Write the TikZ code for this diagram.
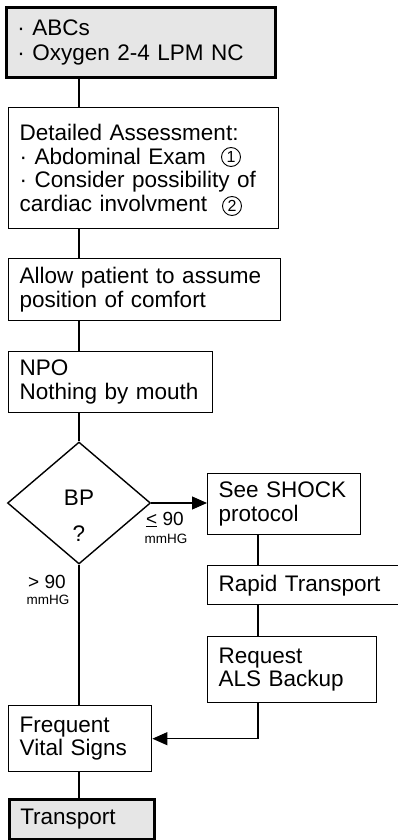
\documentclass[tikz,border=0pt]{standalone}
\usepackage{fontspec}
\setmainfont{Liberation Sans}
\usetikzlibrary{shapes.geometric,arrows.meta}
\definecolor{startgray}{RGB}{230,230,230}
\tikzset{
  box/.style={draw, line width=1.4pt, anchor=north west, align=left,
    inner xsep=11pt, inner ysep=0pt, font=\fontsize{22.5}{23.5}\selectfont},
  endbox/.style={box, fill=startgray, line width=2.6pt},
  link/.style={line width=1.2pt},
  cond/.style={anchor=base, font=\fontsize{19}{19}\selectfont},
  unit/.style={anchor=base, font=\fontsize{13.5}{14}\selectfont},
  note/.style={draw, circle, line width=0.9pt, minimum size=19pt, inner sep=0pt,
    font=\fontsize{16}{16}\selectfont},
}
\begin{document}
\begin{tikzpicture}[x=1pt,y=-1pt]
  \useasboundingbox (0,0) rectangle (397,840);
  % Main column
  \node[endbox, text width=247pt, minimum height=70pt] (abc) at (5,6)
    {· ABCs\\[1pt]· Oxygen 2-4 LPM NC};
  \node[box, text width=248pt, minimum height=121pt] (assess) at (8,107)
    {Detailed Assessment:\\· Abdominal Exam\\· Consider possibility of\\cardiac involvment};
  \node[note] (note1) at (231,157) {1};
  \node[note] (note2) at (232,206) {2};
  \node[box, text width=250pt, minimum height=62pt] (allow) at (8,258)
    {Allow patient to assume\\position of comfort};
  \node[box, text width=182pt, minimum height=61pt] (npo) at (8,351)
    {NPO\\Nothing by mouth};
  \node[draw, diamond, line width=1.4pt, minimum width=143pt, minimum height=122pt,
    inner sep=0pt] (bp) at (79,503) {};
  \node[align=center, font=\fontsize{22.5}{23.5}\selectfont] (bptext) at (79,516)
    {BP\\[13pt]?};
  \node[box, text width=121pt, minimum height=66pt] (vital) at (8,705)
    {Frequent\\Vital Signs};
  \node[endbox, text width=123pt, minimum height=40pt] (transport) at (8,798)
    {Transport};
  % Shock column
  \node[box, text width=131pt, minimum height=61pt] (shock) at (207,473)
    {See SHOCK\\protocol};
  \node[box, text width=200pt, minimum height=39pt] (rapid) at (207,565)
    {Rapid Transport};
  \node[box, text width=147pt, minimum height=66pt] (als) at (207,636)
    {Request\\ALS Backup};
  \coordinate (rcol) at (258,0);

  % Connectors
  \draw[link] (abc.south -| bp) -- (assess.north -| bp);
  \draw[link] (assess.south -| bp) -- (allow.north -| bp);
  \draw[link] (allow.south -| bp) -- (npo.north -| bp);
  \draw[link] (npo.south -| bp) -- (bp.north);
  \draw[link] (bp.south) -- (vital.north -| bp);
  \draw[link] (vital.south -| bp) -- (transport.north -| bp);
  \draw[link, -{Triangle[length=15pt,width=13pt]}] (bp.east) -- (bp.east -| shock.west);
  \draw[link] (shock.south -| rcol) -- (rapid.north -| rcol);
  \draw[link] (rapid.south -| rcol) -- (als.north -| rcol);
  \draw[link, -{Triangle[length=15pt,width=13pt]}] (als.south -| rcol) |- (vital.east);

  % Branch labels
  \node[cond] (low) at (165,525) {\underline{<} 90};
  \node[unit] (lowunit) at (166,543) {mmHG};
  \node[cond] (high) at (47,588) {> 90};
  \node[unit] (highunit) at (48,604) {mmHG};
\end{tikzpicture}
\end{document}
